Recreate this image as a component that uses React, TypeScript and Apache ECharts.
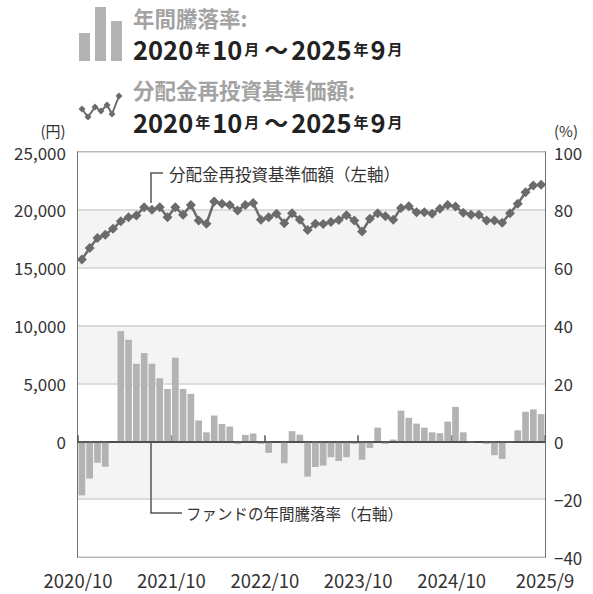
import React, { useEffect, useRef } from 'react';
import * as echarts from 'echarts';

const tickLabels = ['2020/10', '2021/10', '2022/10', '2023/10', '2024/10', '2025/9'];

const navValues = [
  15720, 16700, 17560, 17850, 18360, 19020, 19370, 19510, 20230, 20000,
  20230, 19370, 20230, 19570, 20430, 19080, 18800, 20720, 20520, 20430,
  19940, 20430, 20600, 19140, 19370, 19660, 18850, 19710, 19140, 18250,
  18790, 18780, 18940, 19130, 19540, 19080, 18120, 19230, 19710, 19450,
  19140, 20170, 20320, 19800, 19800, 19660, 20090, 20430, 20290, 19740,
  19570, 19570, 19080, 19080, 18880, 19710, 20520, 21520, 22100, 22180,
];

const returnValues = [
  -18.7, -12.9, -7.4, -8.8, 0, 38.1, 35.1, 26.8, 30.5, 26.8,
  21.8, 18.1, 28.9, 18.1, 16.4, 7.2, 3.1, 8.9, 6.0, 5.1,
  -0.9, 2.2, 2.7, -0.9, -4.0, 0, -7.6, 3.5, 2.3, -12.2,
  -8.9, -8.4, -5.5, -6.8, -5.5, -0.9, -6.4, -2.3, 4.7, -0.9,
  0.6, 10.6, 8.1, 6.1, 4.7, 3.1, 2.8, 6.8, 11.9, 3.1,
  -0.6, 0, -0.9, -4.8, -6.1, -0.5, 3.8, 10.2, 11.0, 9.4,
];

const categories = navValues.map((_, i) => String(i));

const FONT = '"Noto Sans CJK JP", "Noto Sans", sans-serif';

function diamond(cx: number, cy: number, r: number) {
  return {
    type: 'polygon',
    shape: { points: [[cx, cy - r], [cx + r, cy], [cx, cy + r], [cx - r, cy]] },
    style: { fill: '#6b6b6b' },
  };
}

export default function App() {
  const ref = useRef<HTMLDivElement>(null);
  useEffect(() => {
    if (!ref.current) return;
    const chart = echarts.init(ref.current, undefined, { renderer: 'svg' });
    const iconPts = [[82, 109], [88, 117], [95, 107], [101, 111], [107, 105], [112, 114], [119, 96]];
    const dateRich = {
      d: { fontSize: 25.5, lineHeight: 24, fontWeight: 'bold', fill: '#222', color: '#222', fontFamily: FONT },
      k: { fontSize: 15, lineHeight: 24, fontWeight: 'bold', fill: '#222', color: '#222', fontFamily: FONT, padding: [0, 2, 0, 2] },
      t: { fontSize: 24, lineHeight: 24, fontWeight: 'bold', fill: '#222', color: '#222', fontFamily: FONT, padding: [0, 3, 0, 3] },
    };
    const dateText = '{d|2020}{k|年}{d|10}{k|月}{t|～}{d|2025}{k|年}{d|9}{k|月}';
    const option: any = {
      animation: false,
      textStyle: { fontFamily: FONT },
      grid: {
        left: 78, right: 48, top: 152, bottom: 37,
        show: true, borderColor: '#444', borderWidth: 1.5, backgroundColor: 'transparent',
      },
      xAxis: [
        {
          type: 'category', data: categories, show: false, boundaryGap: true,
        },
        {
          type: 'value', min: 0, max: 60, interval: 12, position: 'bottom',
          axisLine: { show: true, lineStyle: { color: '#444', width: 1.5 } },
          axisTick: { show: true, inside: true, length: 6, lineStyle: { color: '#555', width: 1.5 } },
          splitLine: { show: false },
          axisLabel: {
            show: true, showMinLabel: true, showMaxLabel: true, margin: 14,
            fontSize: 18.5, color: '#333', fontFamily: FONT,
            formatter: (v: number) => tickLabels[Math.round(v / 12)] ?? '',
          },
        },
      ],
      yAxis: [
        {
          type: 'value', min: -10000, max: 25000, interval: 5000,
          axisLine: { show: false }, axisTick: { show: false },
          axisLabel: {
            fontSize: 17, color: '#333', margin: 12, fontFamily: FONT,
            formatter: (v: number) => (v < 0 ? '' : v.toLocaleString('en-US')),
          },
          splitLine: { show: true, lineStyle: { color: '#d2d2d2', width: 1.5 } },
          splitArea: { show: true, areaStyle: { color: ['#ffffff', '#f4f4f4'] } },
        },
        {
          type: 'value', min: -40, max: 100, interval: 20, position: 'right',
          axisLine: { show: false }, axisTick: { show: false },
          splitLine: { show: false },
          axisLabel: {
            fontSize: 17, color: '#333', margin: 9, fontFamily: FONT,
            formatter: (v: number) => (v < 0 ? '−' + Math.abs(v) : String(v)),
          },
        },
      ],
      series: [
        {
          type: 'bar', xAxisIndex: 0, yAxisIndex: 1, data: returnValues,
          barCategoryGap: '14%',
          itemStyle: { color: '#b3b3b3' },
          markLine: {
            silent: true, symbol: ['none', 'none'], label: { show: false },
            lineStyle: { color: '#444', width: 1.5, type: 'solid' },
            data: [{ yAxis: 0 }],
          },
        },
        {
          type: 'line', xAxisIndex: 0, yAxisIndex: 0, data: navValues,
          symbol: 'diamond', symbolSize: 10, showAllSymbol: true,
          lineStyle: { color: '#6b6b6b', width: 2.5 },
          itemStyle: { color: '#6b6b6b' },
          z: 5,
        },
      ],
      graphic: [
        { type: 'rect', shape: { x: 79, y: 33, width: 11, height: 28 }, style: { fill: '#b3b3b3' } },
        { type: 'rect', shape: { x: 95, y: 7, width: 11, height: 54 }, style: { fill: '#b3b3b3' } },
        { type: 'rect', shape: { x: 111, y: 21, width: 11, height: 40 }, style: { fill: '#b3b3b3' } },
        {
          type: 'text', x: 133, y: 17,
          style: { text: '年間騰落率:', fill: '#a3a3a3', font: `bold 21.5px ${FONT}`, textVerticalAlign: 'middle' },
        },
        {
          type: 'text', x: 133, y: 48,
          style: { text: dateText, rich: dateRich, textVerticalAlign: 'middle' },
        },
        {
          type: 'polyline', shape: { points: iconPts },
          style: { stroke: '#6b6b6b', lineWidth: 2, fill: 'none' },
        },
        ...iconPts.map(([x, y]) => diamond(x, y, 3.5)),
        {
          type: 'text', x: 133, y: 89,
          style: { text: '分配金再投資基準価額:', fill: '#a3a3a3', font: `bold 21.5px ${FONT}`, textVerticalAlign: 'middle' },
        },
        {
          type: 'text', x: 133, y: 121,
          style: { text: dateText, rich: dateRich, textVerticalAlign: 'middle' },
        },
        {
          type: 'text', x: 53, y: 130,
          style: { text: '(円)', fill: '#333', font: `15px ${FONT}`, textAlign: 'center', textVerticalAlign: 'middle' },
        },
        {
          type: 'text', x: 566, y: 130,
          style: { text: '(%)', fill: '#333', font: `15px ${FONT}`, textAlign: 'center', textVerticalAlign: 'middle' },
        },
        {
          type: 'polyline', shape: { points: [[151, 203], [151, 173], [163, 173]] },
          style: { stroke: '#555', lineWidth: 1.5, fill: 'none' }, z: 10,
        },
        {
          type: 'text', x: 169, y: 174,
          style: { text: '分配金再投資基準価額（左軸）', fill: '#333', font: `16.5px ${FONT}`, textVerticalAlign: 'middle' },
          z: 10,
        },
        {
          type: 'polyline', shape: { points: [[151, 442], [151, 513], [182, 513]] },
          style: { stroke: '#555', lineWidth: 1.5, fill: 'none' }, z: 10,
        },
        {
          type: 'text', x: 186, y: 513,
          style: { text: 'ファンドの年間騰落率（右軸）', fill: '#333', font: `15.5px ${FONT}`, textVerticalAlign: 'middle' },
          z: 10,
        },
      ],
    };
    chart.setOption(option);
    return () => chart.dispose();
  }, []);
  return <div ref={ref} style={{ width: 593, height: 594, position: 'absolute', left: 0, top: 0 }} />;
}
